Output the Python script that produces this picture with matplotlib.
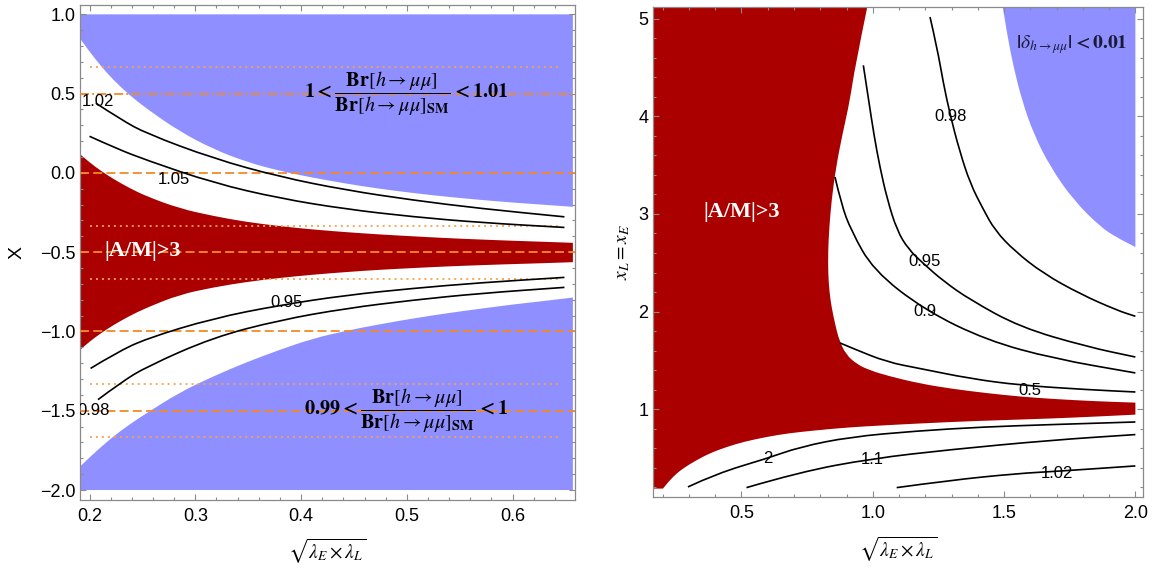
import matplotlib.pyplot as plt
from matplotlib.path import Path
from matplotlib.patches import PathPatch
from matplotlib.ticker import MultipleLocator

plt.rcParams['font.family'] = ['Liberation Sans', 'DejaVu Sans']
plt.rcParams['mathtext.fontset'] = 'stix'
plt.rcParams['lines.scale_dashes'] = False

BLUE = '#8F8FFF'
RED = '#AA0000'
ORANGE = '#F28A2A'
ORANGE_DOT = '#F6A24F'
FRAME = '#8A8A8A'

# ---------------- left panel: X vs sqrt(lambda_E*lambda_L) ----------------
lx = [0.191, 0.200, 0.211, 0.222, 0.237, 0.254, 0.285, 0.317, 0.348, 0.380,
      0.411, 0.443, 0.474, 0.506, 0.537, 0.569, 0.600, 0.632, 0.657]
# lower edge of the upper blue band (1 < Br/Br_SM < 1.01)
blue_up_edge = [0.847, 0.765, 0.672, 0.590, 0.495, 0.405, 0.262, 0.150, 0.070, 0.012,
                -0.030, -0.068, -0.100, -0.127, -0.150, -0.170, -0.187, -0.202, -0.214]
# |A/M|>3 band
red_top = [0.118, 0.066, 0.012, -0.036, -0.093, -0.148, -0.224, -0.272, -0.309, -0.336,
           -0.357, -0.374, -0.388, -0.400, -0.411, -0.420, -0.428, -0.435, -0.441]
red_bot = [-1.117, -1.064, -1.010, -0.962, -0.905, -0.850, -0.768, -0.722, -0.688, -0.662,
           -0.642, -0.625, -0.611, -0.600, -0.590, -0.582, -0.575, -0.569, -0.563]
# upper edge of the lower blue band (0.99 < Br/Br_SM < 1)
blue_low_edge = [-1.852, -1.795, -1.728, -1.665, -1.590, -1.515, -1.385, -1.283, -1.195, -1.115,
                 -1.045, -0.995, -0.955, -0.918, -0.886, -0.857, -0.830, -0.806, -0.786]

c102_x = [0.206, 0.230, 0.254, 0.317, 0.380, 0.443, 0.506, 0.569, 0.649]
c102_y = [0.440, 0.335, 0.248, 0.091, -0.025, -0.109, -0.172, -0.224, -0.277]
c105_x = [0.200, 0.225, 0.254, 0.317, 0.380, 0.443, 0.506, 0.569, 0.649]
c105_y = [0.231, 0.155, 0.080, -0.063, -0.161, -0.229, -0.277, -0.313, -0.344]
c095_x = [0.201, 0.225, 0.254, 0.317, 0.380, 0.443, 0.506, 0.569, 0.649]
c095_y = [-1.233, -1.135, -1.044, -0.917, -0.834, -0.771, -0.728, -0.693, -0.659]
c098_x = [0.208, 0.230, 0.254, 0.317, 0.380, 0.443, 0.506, 0.569, 0.649]
c098_y = [-1.430, -1.320, -1.222, -1.037, -0.928, -0.854, -0.802, -0.760, -0.722]

left_labels = ['1.02', '1.05', '0.95', '0.98']
left_label_x = [0.208, 0.280, 0.386, 0.204]
left_label_y = [0.453, -0.040, -0.816, -1.500]

dashed_levels = [0.0, -0.5, -1.0, -1.5]
dashdot_levels = [0.5]
dotted_levels = [0.667, -0.333, -0.667, -1.333, -1.667]

# ---------------- right panel: x_L = x_E vs sqrt(lambda_E*lambda_L) ----------------
# |A/M|>3 region: upper/right edge (top of frame down to x=2) and lower edge (x=2 back to left)
red_r_up_x = [0.979, 0.932, 0.913, 0.885, 0.860, 0.843, 0.834, 0.830, 0.830, 0.835,
              0.843, 0.856, 0.872, 0.898, 0.940, 0.989, 1.060, 1.180, 1.300, 1.434,
              1.560, 1.688, 1.850, 2.000]
red_r_up_y = [5.118, 4.504, 4.163, 3.822, 3.480, 3.139, 2.850, 2.627, 2.389, 2.200,
              2.047, 1.877, 1.706, 1.560, 1.460, 1.399, 1.340, 1.263, 1.210, 1.165,
              1.130, 1.105, 1.082, 1.068]
red_r_low_x = [2.000, 1.850, 1.676, 1.480, 1.294, 1.040, 0.900, 0.786, 0.680, 0.595,
               0.510, 0.443, 0.380, 0.328, 0.285, 0.252, 0.222, 0.201]
red_r_low_y = [0.945, 0.925, 0.905, 0.888, 0.870, 0.836, 0.813, 0.785, 0.755, 0.717,
               0.668, 0.614, 0.551, 0.478, 0.408, 0.342, 0.258, 0.188]
red_r_left = 0.163
red_r_top = 5.118
# |delta| < 0.01 region edge
blue_r_x = [1.495, 1.511, 1.536, 1.568, 1.612, 1.676, 1.765, 1.867, 1.930, 2.000]
blue_r_y = [5.118, 4.845, 4.504, 4.163, 3.822, 3.480, 3.139, 2.866, 2.757, 2.661]

r098_x = [1.218, 1.245, 1.269, 1.295, 1.330, 1.371, 1.420, 1.465, 1.540, 1.650, 1.790, 1.930, 2.000]
r098_y = [5.015, 4.700, 4.334, 4.009, 3.650, 3.310, 3.050, 2.832, 2.620, 2.389, 2.180, 2.013, 1.952]
r095_x = [0.964, 0.985, 1.005, 1.027, 1.055, 1.092, 1.135, 1.193, 1.270, 1.371, 1.561, 1.816, 2.000]
r095_y = [4.521, 4.150, 3.800, 3.480, 3.150, 2.832, 2.640, 2.490, 2.310, 2.120, 1.840, 1.640, 1.535]
r090_x = [0.856, 0.880, 0.917, 1.002, 1.199, 1.434, 1.688, 2.000]
r090_y = [3.378, 3.100, 2.832, 2.423, 2.013, 1.706, 1.519, 1.372]
r050_x = [0.875, 0.926, 1.053, 1.180, 1.371, 1.561, 1.816, 2.000]
r050_y = [1.679, 1.621, 1.484, 1.417, 1.314, 1.246, 1.201, 1.177]
r2_x = [0.296, 0.405, 0.595, 0.722, 0.913, 1.167, 1.421, 1.676, 2.000]
r2_y = [0.205, 0.342, 0.495, 0.614, 0.717, 0.778, 0.819, 0.843, 0.870]
r11_x = [0.519, 0.722, 0.996, 1.294, 1.676, 2.000]
r11_y = [0.198, 0.358, 0.495, 0.587, 0.683, 0.741]
r102_x = [1.091, 1.294, 1.549, 1.701, 2.000]
r102_y = [0.198, 0.273, 0.342, 0.365, 0.420]

right_labels = ['0.98', '0.95', '0.9', '0.5', '2', '1.1', '1.02']
right_label_x = [1.295, 1.199, 1.199, 1.600, 0.601, 0.999, 1.701]
right_label_y = [4.000, 2.508, 1.996, 1.194, 0.495, 0.488, 0.342]


def build_path(pieces, closed=False):
    # pieces: list of (kind, xs, ys); 'smooth' pieces are drawn with quadratic
    # curves through the read points, 'line' pieces as straight segments
    verts, codes = [], []
    for kind, xs, ys in pieces:
        pts = list(zip(xs, ys))
        verts.append(pts[0])
        codes.append(Path.MOVETO if not codes else Path.LINETO)
        if kind == 'line':
            for p in pts[1:]:
                verts.append(p)
                codes.append(Path.LINETO)
        else:
            for i in range(1, len(pts) - 1):
                mid = ((pts[i][0] + pts[i + 1][0]) / 2, (pts[i][1] + pts[i + 1][1]) / 2)
                verts += [pts[i], mid]
                codes += [Path.CURVE3, Path.CURVE3]
            verts.append(pts[-1])
            codes.append(Path.LINETO)
    if closed:
        verts.append(verts[0])
        codes.append(Path.CLOSEPOLY)
    return Path(verts, codes)


def curve(ax, xs, ys):
    ax.add_patch(PathPatch(build_path([('smooth', xs, ys)]), fill=False,
                           edgecolor='black', lw=1.2, zorder=4))


def region(ax, pieces, color):
    ax.add_patch(PathPatch(build_path(pieces, closed=True), facecolor=color,
                           edgecolor='none', lw=0, zorder=1))


fig = plt.figure(figsize=(11.53, 5.70), dpi=100)
ax1 = fig.add_axes([80 / 1153, 70 / 570, 495 / 1153, 495 / 570])
ax2 = fig.add_axes([653 / 1153, 73 / 570, 490 / 1153, 490 / 570])

# left regions
region(ax1, [('smooth', lx, blue_up_edge),
             ('line', [lx[-1], lx[0]], [1.0, 1.0])], BLUE)
region(ax1, [('smooth', lx, red_top),
             ('smooth', lx[::-1], red_bot[::-1])], RED)
region(ax1, [('smooth', lx, blue_low_edge),
             ('line', [lx[-1], lx[0]], [-2.0, -2.0])], BLUE)

for y in dashed_levels:
    ax1.axhline(y, color=ORANGE, lw=1.3, dashes=(6.5, 3.0), zorder=3)
for y in dashdot_levels:
    ax1.axhline(y, color=ORANGE, lw=1.3, dashes=(6.5, 2.2, 1.4, 2.2), zorder=3)
ax1.hlines(dotted_levels, 0.2, 0.645, colors=ORANGE_DOT, lw=1.3,
           linestyles=[(0, (1.4, 2.9))], zorder=3)

for cx, cy in [(c102_x, c102_y), (c105_x, c105_y), (c095_x, c095_y), (c098_x, c098_y)]:
    curve(ax1, cx, cy)
for t, x, y in zip(left_labels, left_label_x, left_label_y):
    ax1.text(x, y, t, fontsize=12, ha='center', va='center', zorder=5, clip_on=True)

ax1.text(0.499, 0.469,
         r'$\mathbf{1<}\dfrac{\mathbf{Br}[h\rightarrow\mu\mu]}{\mathbf{Br}[h\rightarrow\mu\mu]_{\mathbf{SM}}}\mathbf{<1.01}$',
         fontsize=14.5, ha='center', va='baseline', zorder=6)
ax1.text(0.499, -1.533,
         r'$\mathbf{0.99<}\dfrac{\mathbf{Br}[h\rightarrow\mu\mu]}{\mathbf{Br}[h\rightarrow\mu\mu]_{\mathbf{SM}}}\mathbf{<1}$',
         fontsize=14.5, ha='center', va='baseline', zorder=6)
ax1.text(0.250, -0.49, '|A/M|>3', color='white', fontsize=16, fontweight='bold',
         family='Liberation Serif', ha='center', va='center', zorder=6)

ax1.set_xlim(0.191, 0.659)
ax1.set_ylim(-2.063, 1.059)
ax1.xaxis.set_major_locator(MultipleLocator(0.1))
ax1.xaxis.set_minor_locator(MultipleLocator(0.02))
ax1.yaxis.set_major_locator(MultipleLocator(0.5))
ax1.yaxis.set_minor_locator(MultipleLocator(0.1))
ax1.set_xlabel(r'$\sqrt{\lambda_E \times \lambda_L}$', fontsize=14)
ax1.xaxis.set_label_coords(0.5, -0.075)
ax1.set_ylabel('X', fontsize=14)
ax1.yaxis.set_label_coords(-0.11, 0.5)

# right regions
region(ax2, [('line', [red_r_left, red_r_left, red_r_up_x[0]],
                      [red_r_low_y[-1], red_r_top, red_r_top]),
             ('smooth', red_r_up_x, red_r_up_y),
             ('smooth', red_r_low_x, red_r_low_y)], RED)
region(ax2, [('smooth', blue_r_x, blue_r_y),
             ('line', [blue_r_x[-1], blue_r_x[-1]], [blue_r_y[-1], red_r_top])], BLUE)
for cx, cy in [(r098_x, r098_y), (r095_x, r095_y), (r090_x, r090_y), (r050_x, r050_y),
               (r2_x, r2_y), (r11_x, r11_y), (r102_x, r102_y)]:
    curve(ax2, cx, cy)
for t, x, y in zip(right_labels, right_label_x, right_label_y):
    ax2.text(x, y, t, fontsize=12, ha='center', va='center', zorder=5, clip_on=True)

ax2.text(0.50, 3.016, '|A/M|>3', color='white', fontsize=16, fontweight='bold',
         family='Liberation Serif', ha='center', va='center', zorder=6)
ax2.text(1.756, 4.73, r'$\mathbf{|}\delta_{h\rightarrow\mu\mu}\mathbf{|<0.01}$',
         color='#1a1a3a', fontsize=14, ha='center', va='center', zorder=6)

ax2.set_xlim(0.163, 2.029)
ax2.set_ylim(0.102, 5.118)
ax2.xaxis.set_major_locator(MultipleLocator(0.5))
ax2.xaxis.set_minor_locator(MultipleLocator(0.1))
ax2.yaxis.set_major_locator(MultipleLocator(1))
ax2.yaxis.set_minor_locator(MultipleLocator(0.2))
ax2.set_xlabel(r'$\sqrt{\lambda_E \times \lambda_L}$', fontsize=14)
ax2.xaxis.set_label_coords(0.5, -0.078)
ax2.set_ylabel(r'$x_L = x_E$', fontsize=14)
ax2.yaxis.set_label_coords(-0.043, 0.5)

for ax in (ax1, ax2):
    for sp in ax.spines.values():
        sp.set_color(FRAME)
        sp.set_linewidth(0.9)
    ax.tick_params(which='both', direction='in', top=True, right=True, color=FRAME,
                   labelsize=13, width=0.8)
    ax.tick_params(which='major', length=4.5)
    ax.tick_params(which='minor', length=2.5)
    ax.tick_params(axis='x', pad=6)
    ax.tick_params(axis='y', pad=3.5)

fig.savefig('out.png', dpi=100)
